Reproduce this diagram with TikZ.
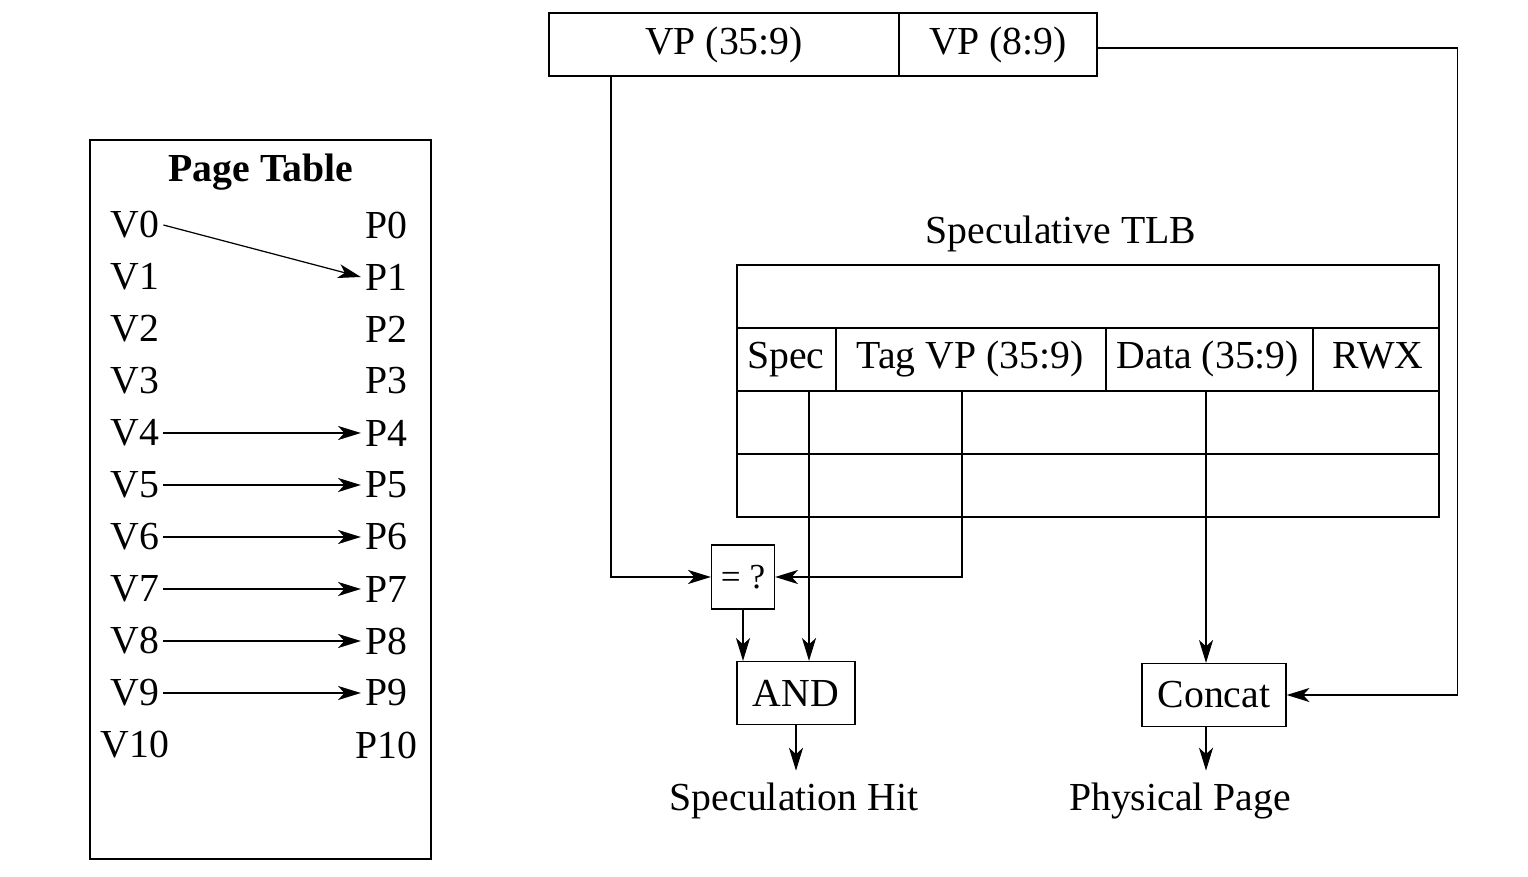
\documentclass[tikz,border=0pt]{standalone}
\usepackage{fontspec}
\setmainfont{Liberation Serif}
\usetikzlibrary{arrows.meta}
\begin{document}
\begin{tikzpicture}[x=0.01cm,y=-0.01cm,line width=0.35pt,
    >={Stealth[length=6.5pt,width=4pt,inset=1.8pt]},
    font=\fontsize{11.3}{13}\selectfont,
    unit/.style={draw,inner sep=0pt},
    entry/.style={inner sep=1pt},
    field/.style={text height=0.75em,text depth=0.25em}]
    \useasboundingbox (0,0) rectangle (1528,877);
    % virtual page
    \node[unit,minimum width=3.5cm,minimum height=0.63cm] (vpa) at (724,44.5) {VP (35:9)};
    \node[unit,minimum width=1.98cm,minimum height=0.63cm] (vpb) at (998,44.5) {VP (8:9)};
    % page table
    \draw (90,140) rectangle (431,859);
    \node (pt) at (261,172) {\bfseries Page Table};
    \foreach \i in {0,...,10} {
        \node[entry] (V\i) at (135,225+52*\i) {V\i};
        \node[entry] (P\i) at (386,225+52*\i) {P\i};
    }
    \draw[->] (V0.east) -- (P1.west);
    \foreach \i in {4,...,9}
        \draw[->] (V\i.east) -- (P\i.west);
    % speculative tlb
    \node (tlb) at (1061,234) {Speculative TLB};
    \draw (737,265) rectangle (1439,517);
    \draw (737,328) -- (1439,328);
    \draw (737,391) -- (1439,391);
    \draw (737,454) -- (1439,454);
    \draw (836,328) -- (836,391);
    \draw (1106,328) -- (1106,391);
    \draw (1313,328) -- (1313,391);
    \node[field] (spec) at (786,360) {Spec};
    \node[field] (tag) at (970,360) {Tag VP (35:9)};
    \node[field] (data) at (1208,360) {Data (35:9)};
    \node[field] (rwx) at (1378,360) {RWX};
    \coordinate (specc) at (809,391);
    \coordinate (tagc) at (962,391);
    \coordinate (datac) at (1206,391);
    \coordinate (tapA) at (611,76);
    % logic
    \node[unit,minimum width=0.63cm,minimum height=0.64cm,font=\fontsize{10}{12}\selectfont] (eq) at (743,577) {= ?};
    \node[unit,minimum width=1.18cm,minimum height=0.63cm] (and) at (796,693) {AND};
    \node[unit,minimum width=1.44cm,minimum height=0.63cm] (concat) at (1214,695) {Concat};
    \node (hit) at (794,801) {Speculation Hit};
    \node (phys) at (1180,801) {Physical Page};
    \draw[->] (tapA) |- (eq.west);
    \draw[->] (tagc) |- (eq.east);
    \draw[->] (specc) -- (specc |- and.north);
    \draw[->] (eq.south) -- (eq.south |- and.north);
    \draw[->] (datac) -- (datac |- concat.north);
    \draw[->] ([yshift=-0.035cm]vpb.east) -- ++(360,0) |- (concat.east);
    \draw[->] (and.south) -- (and.south |- hit.north);
    \draw[->] (datac |- concat.south) -- (datac |- phys.north);
\end{tikzpicture}
\end{document}
